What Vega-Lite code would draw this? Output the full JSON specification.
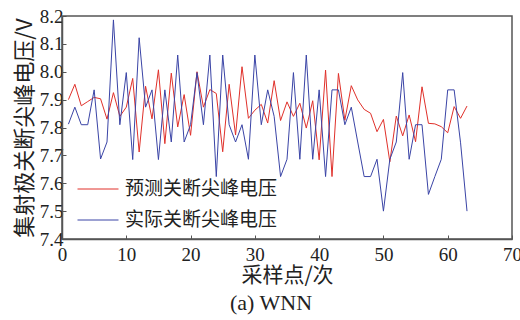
{
  "$schema": "https://vega.github.io/schema/vega-lite/v6.json",
  "width": 450,
  "height": 223,
  "autosize": {"type": "none"},
  "padding": {"left": 62, "top": 16, "right": 8, "bottom": 81},
  "background": "white",
  "title": {"text": "(a) WNN", "orient": "bottom", "font": "Liberation Serif", "fontSize": 22, "fontWeight": "normal", "color": "#222", "offset": 8, "dx": -16},
  "config": {"view": {"stroke": "#555", "strokeWidth": 1.5}},
  "data": {"values": [
    {"x":1,"v":7.900,"s":"预测关断尖峰电压"},{"x":2,"v":7.955,"s":"预测关断尖峰电压"},{"x":3,"v":7.878,"s":"预测关断尖峰电压"},{"x":4,"v":7.893,"s":"预测关断尖峰电压"},{"x":5,"v":7.908,"s":"预测关断尖峰电压"},{"x":6,"v":7.903,"s":"预测关断尖峰电压"},{"x":7,"v":7.830,"s":"预测关断尖峰电压"},{"x":8,"v":7.925,"s":"预测关断尖峰电压"},{"x":9,"v":7.840,"s":"预测关断尖峰电压"},{"x":10,"v":7.873,"s":"预测关断尖峰电压"},
    {"x":11,"v":7.976,"s":"预测关断尖峰电压"},{"x":12,"v":7.712,"s":"预测关断尖峰电压"},{"x":13,"v":7.948,"s":"预测关断尖峰电压"},{"x":14,"v":7.831,"s":"预测关断尖峰电压"},{"x":15,"v":8.007,"s":"预测关断尖峰电压"},{"x":16,"v":7.742,"s":"预测关断尖峰电压"},{"x":17,"v":7.995,"s":"预测关断尖峰电压"},{"x":18,"v":7.802,"s":"预测关断尖峰电压"},{"x":19,"v":7.918,"s":"预测关断尖峰电压"},{"x":20,"v":7.772,"s":"预测关断尖峰电压"},
    {"x":21,"v":8.000,"s":"预测关断尖峰电压"},{"x":22,"v":7.873,"s":"预测关断尖峰电压"},{"x":23,"v":7.936,"s":"预测关断尖峰电压"},{"x":24,"v":7.922,"s":"预测关断尖峰电压"},{"x":25,"v":7.713,"s":"预测关断尖峰电压"},{"x":26,"v":7.955,"s":"预测关断尖峰电压"},{"x":27,"v":7.773,"s":"预测关断尖峰电压"},{"x":28,"v":8.018,"s":"预测关断尖峰电压"},{"x":29,"v":7.833,"s":"预测关断尖峰电压"},{"x":30,"v":7.862,"s":"预测关断尖峰电压"},
    {"x":31,"v":7.883,"s":"预测关断尖峰电压"},{"x":32,"v":7.816,"s":"预测关断尖峰电压"},{"x":33,"v":7.968,"s":"预测关断尖峰电压"},{"x":34,"v":7.825,"s":"预测关断尖峰电压"},{"x":35,"v":7.892,"s":"预测关断尖峰电压"},{"x":36,"v":7.840,"s":"预测关断尖峰电压"},{"x":37,"v":7.887,"s":"预测关断尖峰电压"},{"x":38,"v":7.798,"s":"预测关断尖峰电压"},{"x":39,"v":7.896,"s":"预测关断尖峰电压"},{"x":40,"v":7.684,"s":"预测关断尖峰电压"},
    {"x":41,"v":8.006,"s":"预测关断尖峰电压"},{"x":42,"v":7.624,"s":"预测关断尖峰电压"},{"x":43,"v":7.994,"s":"预测关断尖峰电压"},{"x":44,"v":7.826,"s":"预测关断尖峰电压"},{"x":45,"v":7.950,"s":"预测关断尖峰电压"},{"x":46,"v":7.899,"s":"预测关断尖峰电压"},{"x":47,"v":7.865,"s":"预测关断尖峰电压"},{"x":48,"v":7.851,"s":"预测关断尖峰电压"},{"x":49,"v":7.785,"s":"预测关断尖峰电压"},{"x":50,"v":7.829,"s":"预测关断尖峰电压"},
    {"x":51,"v":7.677,"s":"预测关断尖峰电压"},{"x":52,"v":7.841,"s":"预测关断尖峰电压"},{"x":53,"v":7.770,"s":"预测关断尖峰电压"},{"x":54,"v":7.845,"s":"预测关断尖峰电压"},{"x":55,"v":7.749,"s":"预测关断尖峰电压"},{"x":56,"v":7.946,"s":"预测关断尖峰电压"},{"x":57,"v":7.815,"s":"预测关断尖峰电压"},{"x":58,"v":7.813,"s":"预测关断尖峰电压"},{"x":59,"v":7.803,"s":"预测关断尖峰电压"},{"x":60,"v":7.781,"s":"预测关断尖峰电压"},
    {"x":61,"v":7.875,"s":"预测关断尖峰电压"},{"x":62,"v":7.833,"s":"预测关断尖峰电压"},{"x":63,"v":7.877,"s":"预测关断尖峰电压"},
    {"x":1,"v":7.812,"s":"实际关断尖峰电压"},{"x":2,"v":7.873,"s":"实际关断尖峰电压"},{"x":3,"v":7.810,"s":"实际关断尖峰电压"},{"x":4,"v":7.810,"s":"实际关断尖峰电压"},{"x":5,"v":7.935,"s":"实际关断尖峰电压"},{"x":6,"v":7.687,"s":"实际关断尖峰电压"},{"x":7,"v":7.748,"s":"实际关断尖峰电压"},{"x":8,"v":8.186,"s":"实际关断尖峰电压"},{"x":9,"v":7.810,"s":"实际关断尖峰电压"},{"x":10,"v":7.997,"s":"实际关断尖峰电压"},
    {"x":11,"v":7.685,"s":"实际关断尖峰电压"},{"x":12,"v":8.122,"s":"实际关断尖峰电压"},{"x":13,"v":7.873,"s":"实际关断尖峰电压"},{"x":14,"v":7.935,"s":"实际关断尖峰电压"},{"x":15,"v":7.685,"s":"实际关断尖峰电压"},{"x":16,"v":7.935,"s":"实际关断尖峰电压"},{"x":17,"v":7.748,"s":"实际关断尖峰电压"},{"x":18,"v":8.060,"s":"实际关断尖峰电压"},{"x":19,"v":7.748,"s":"实际关断尖峰电压"},{"x":20,"v":7.810,"s":"实际关断尖峰电压"},
    {"x":21,"v":7.997,"s":"实际关断尖峰电压"},{"x":22,"v":7.810,"s":"实际关断尖峰电压"},{"x":23,"v":8.060,"s":"实际关断尖峰电压"},{"x":24,"v":7.624,"s":"实际关断尖峰电压"},{"x":25,"v":8.060,"s":"实际关断尖峰电压"},{"x":26,"v":7.810,"s":"实际关断尖峰电压"},{"x":27,"v":7.748,"s":"实际关断尖峰电压"},{"x":28,"v":7.810,"s":"实际关断尖峰电压"},{"x":29,"v":7.686,"s":"实际关断尖峰电压"},{"x":30,"v":8.060,"s":"实际关断尖峰电压"},
    {"x":31,"v":7.810,"s":"实际关断尖峰电压"},{"x":32,"v":7.935,"s":"实际关断尖峰电压"},{"x":33,"v":7.840,"s":"实际关断尖峰电压"},{"x":34,"v":7.624,"s":"实际关断尖峰电压"},{"x":35,"v":7.686,"s":"实际关断尖峰电压"},{"x":36,"v":7.997,"s":"实际关断尖峰电压"},{"x":37,"v":7.686,"s":"实际关断尖峰电压"},{"x":38,"v":8.060,"s":"实际关断尖峰电压"},{"x":39,"v":7.686,"s":"实际关断尖峰电压"},{"x":40,"v":7.935,"s":"实际关断尖峰电压"},
    {"x":41,"v":7.624,"s":"实际关断尖峰电压"},{"x":42,"v":7.935,"s":"实际关断尖峰电压"},{"x":43,"v":7.935,"s":"实际关断尖峰电压"},{"x":44,"v":7.810,"s":"实际关断尖峰电压"},{"x":45,"v":7.873,"s":"实际关断尖峰电压"},{"x":46,"v":7.748,"s":"实际关断尖峰电压"},{"x":47,"v":7.624,"s":"实际关断尖峰电压"},{"x":48,"v":7.624,"s":"实际关断尖峰电压"},{"x":49,"v":7.686,"s":"实际关断尖峰电压"},{"x":50,"v":7.500,"s":"实际关断尖峰电压"},
    {"x":51,"v":7.686,"s":"实际关断尖峰电压"},{"x":52,"v":7.748,"s":"实际关断尖峰电压"},{"x":53,"v":7.997,"s":"实际关断尖峰电压"},{"x":54,"v":7.686,"s":"实际关断尖峰电压"},{"x":55,"v":7.810,"s":"实际关断尖峰电压"},{"x":56,"v":7.810,"s":"实际关断尖峰电压"},{"x":57,"v":7.560,"s":"实际关断尖峰电压"},{"x":58,"v":7.624,"s":"实际关断尖峰电压"},{"x":59,"v":7.686,"s":"实际关断尖峰电压"},{"x":60,"v":7.935,"s":"实际关断尖峰电压"},
    {"x":61,"v":7.935,"s":"实际关断尖峰电压"},{"x":62,"v":7.745,"s":"实际关断尖峰电压"},{"x":63,"v":7.500,"s":"实际关断尖峰电压"}
  ]},
  "mark": {"type": "line", "strokeWidth": 1, "clip": true},
  "encoding": {
    "x": {
      "field": "x", "type": "quantitative",
      "scale": {"domain": [0, 70], "nice": false},
      "axis": {
        "values": [0, 10, 20, 30, 40, 50, 60, 70],
        "title": "采样点/次",
        "titleFont": "Noto Sans CJK SC", "titleFontSize": 21, "titleFontWeight": "normal", "titleColor": "#222", "titlePadding": 0,
        "labelFont": "Liberation Serif", "labelFontSize": 19, "labelColor": "#222", "labelPadding": 10,
        "tickSize": -4, "tickColor": "#555", "domainColor": "#555", "domainWidth": 1.5, "grid": false, "labelFlush": false
      }
    },
    "y": {
      "field": "v", "type": "quantitative",
      "scale": {"domain": [7.4, 8.2], "nice": false, "zero": false},
      "axis": {
        "values": [7.4, 7.5, 7.6, 7.7, 7.8, 7.9, 8.0, 8.1, 8.2],
        "format": ".1f",
        "title": "集射极关断尖峰电压/V",
        "titleFont": "Noto Sans CJK SC", "titleFontSize": 22, "titleFontWeight": "normal", "titleColor": "#222", "titlePadding": 3,
        "labelFont": "Liberation Serif", "labelFontSize": 19, "labelColor": "#222", "labelPadding": 3,
        "tickSize": -4, "tickColor": "#555", "domainColor": "#555", "domainWidth": 1.5, "grid": false, "labelFlush": false
      }
    },
    "color": {
      "field": "s", "type": "nominal",
      "scale": {"domain": ["预测关断尖峰电压", "实际关断尖峰电压"], "range": ["#e0302a", "#3a44a6"]},
      "legend": {
        "title": null, "orient": "none", "legendX": 15, "legendY": 152, "padding": 0,
        "symbolType": "stroke", "symbolSize": 1681, "symbolStrokeWidth": 1,
        "labelFont": "Noto Sans CJK SC", "labelFontSize": 19, "labelColor": "#222", "labelOffset": 6,
        "rowPadding": -10
      }
    }
  }
}
